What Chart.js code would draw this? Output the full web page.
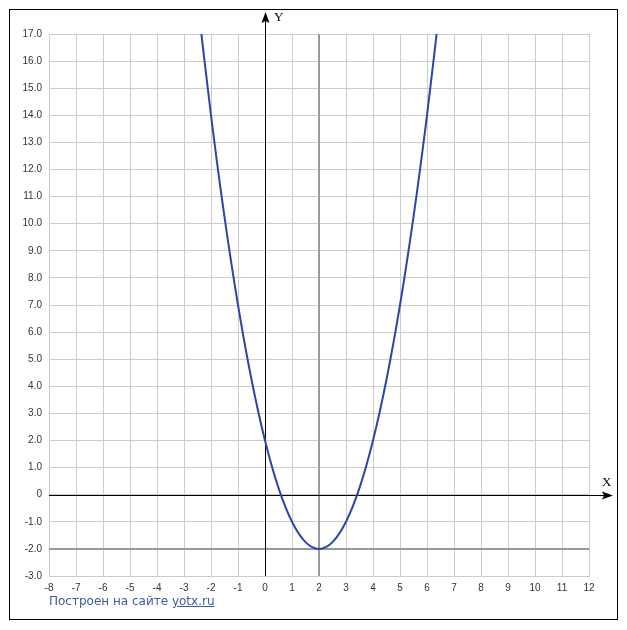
<!DOCTYPE html>
<html>
<head>
<meta charset="utf-8">
<script src="https://cdn.jsdelivr.net/npm/chart.js@4.4.0/dist/chart.umd.min.js"></script>
<style>
  body { margin: 0; background: #fff; }
  #wrap { position: relative; width: 627px; height: 630px; }
  #footer { position: absolute; left: 49px; top: 594px; font: 12px "DejaVu Sans", Arial, sans-serif; color: #3c5a9c; }
  #footer span { text-decoration: underline; }
</style>
</head>
<body>
<div id="wrap">
  <canvas id="graph" width="627" height="630"></canvas>
  <div id="footer">Построен на сайте <span>yotx.ru</span></div>
</div>
<script>
// points
const xValues = [-2.5, -2, -1.5, -1, -0.5, 0, 0.5, 1, 1.5, 2, 2.5, 3, 3.5, 4, 4.5, 5, 5.5, 6, 6.5];
const yValues = [18.25, 14, 10.25, 7, 4.25, 2, 0.25, -1, -1.75, -2, -1.75, -1, 0.25, 2, 4.25, 7, 10.25, 14, 18.25];

const xMin = -8, xMax = 12;
const yMin = -3, yMax = 17;
const vertexX = 2, vertexY = -2;

const points = xValues.map((x, i) => ({ x: x, y: yValues[i] }));

const axesPlugin = {
  id: 'axes',
  beforeDatasetsDraw(chart) {
    const ctx = chart.ctx;
    const a = chart.chartArea;
    const sx = chart.scales.x, sy = chart.scales.y;
    ctx.save();

    // grey guide lines through the vertex
    ctx.strokeStyle = '#999999';
    ctx.lineWidth = 2;
    let px = Math.round(sx.getPixelForValue(vertexX));
    let py = Math.round(sy.getPixelForValue(vertexY));
    ctx.beginPath();
    ctx.moveTo(px, a.top); ctx.lineTo(px, a.bottom);
    ctx.moveTo(a.left, py); ctx.lineTo(a.right, py);
    ctx.stroke();

    // black axes with arrows
    const ox = Math.round(sx.getPixelForValue(0)) + 0.5;
    const oy = Math.round(sy.getPixelForValue(0)) + 0.5;
    ctx.strokeStyle = '#000';
    ctx.fillStyle = '#000';
    ctx.lineWidth = 1;
    ctx.beginPath();
    ctx.moveTo(ox, a.bottom); ctx.lineTo(ox, 18);
    ctx.moveTo(a.left, oy); ctx.lineTo(607, oy);
    ctx.stroke();
    ctx.beginPath();
    ctx.moveTo(ox, 12); ctx.lineTo(ox - 4, 23); ctx.lineTo(ox, 21); ctx.lineTo(ox + 4, 23);
    ctx.closePath(); ctx.fill();
    ctx.beginPath();
    ctx.moveTo(613, oy); ctx.lineTo(602, oy - 4); ctx.lineTo(604, oy); ctx.lineTo(602, oy + 4);
    ctx.closePath(); ctx.fill();

    ctx.font = '13px "Liberation Serif", "DejaVu Serif", serif';
    ctx.textBaseline = 'alphabetic';
    ctx.fillText('Y', 274, 21);
    ctx.fillText('X', 602, 486);

    // frame
    ctx.lineWidth = 1;
    ctx.strokeRect(9.5, 9.5, 608, 610);
    ctx.restore();
  }
};

new Chart(document.getElementById('graph'), {
  type: 'scatter',
  data: {
    datasets: [{
      data: points,
      showLine: true,
      borderColor: '#2b46a8',
      borderWidth: 2,
      pointRadius: 0,
      tension: 0.4,
      fill: false
    }]
  },
  options: {
    responsive: false,
    animation: false,
    layout: { padding: { left: 0, top: 34, right: 38, bottom: 34 } },
    plugins: { legend: { display: false }, tooltip: { enabled: false } },
    scales: {
      x: {
        type: 'linear',
        min: xMin, max: xMax,
        afterFit: s => { s.height = 20; },
        grid: { color: '#cccccc', drawTicks: false },
        border: { color: '#cccccc' },
        ticks: {
          stepSize: 1, padding: 6, maxRotation: 0, autoSkip: false,
          color: '#333', font: { size: 10, family: '"Liberation Sans", Arial, sans-serif' }
        }
      },
      y: {
        type: 'linear',
        min: yMin, max: yMax,
        afterFit: s => { s.width = 49; },
        grid: { color: '#cccccc', drawTicks: false },
        border: { color: '#cccccc' },
        ticks: {
          stepSize: 1, padding: 7, autoSkip: false,
          color: '#333', font: { size: 10, family: '"Liberation Sans", Arial, sans-serif' },
          callback: v => v === 0 ? '0' : v.toFixed(1)
        }
      }
    }
  },
  plugins: [axesPlugin]
});
</script>
</body>
</html>
